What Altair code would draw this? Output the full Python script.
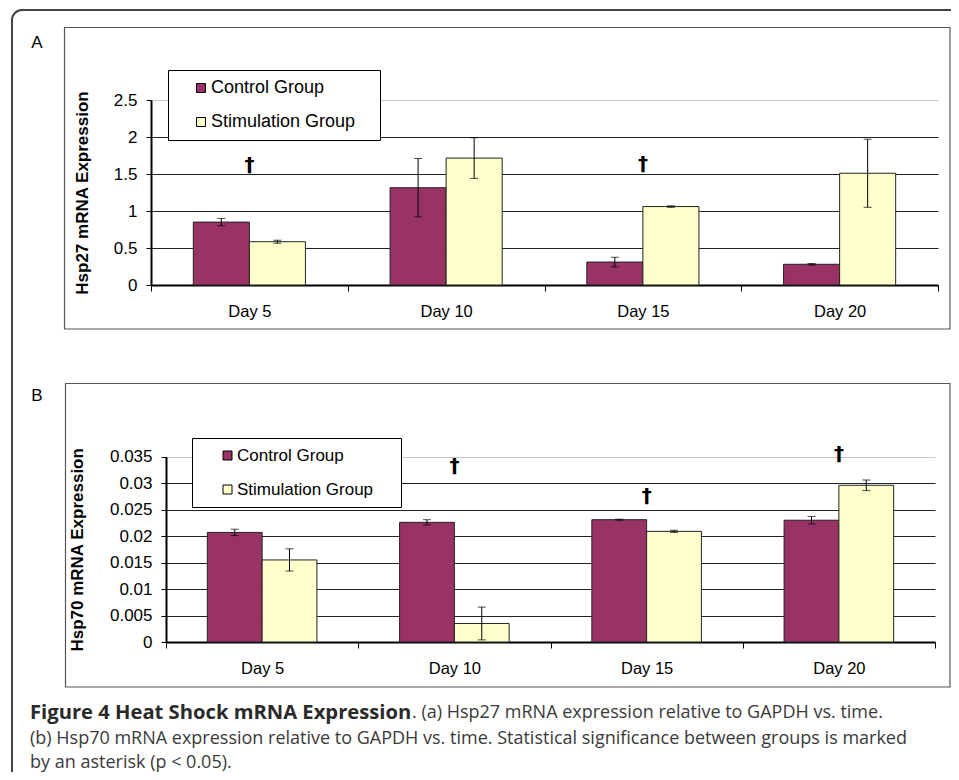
import altair as alt
import pandas as pd

# ---------------- data ----------------
days = ["Day 5", "Day 10", "Day 15", "Day 20"]
groups = ["Control Group", "Stimulation Group"]
group_colors = ["#993366", "#FFFFCC"]

hsp27_control = [0.85, 1.315, 0.31, 0.28]
hsp27_control_err = [0.05, 0.395, 0.065, 0.01]
hsp27_stim = [0.585, 1.715, 1.06, 1.51]
hsp27_stim_err = [0.02, 0.275, 0.01, 0.46]

hsp70_control = [0.0207, 0.0226, 0.0231, 0.0230]
hsp70_control_err = [0.0006, 0.0005, 0.0001, 0.0007]
hsp70_stim = [0.0155, 0.0035, 0.0209, 0.0296]
hsp70_stim_err = [0.0021, 0.0031, 0.0002, 0.0010]

sig27_days = ["Day 5", "Day 15"]
sig27_y = [1.62, 1.63]
sig70_days = ["Day 10", "Day 15", "Day 20"]
sig70_y = [0.0333, 0.0276, 0.0355]

hsp27_ticks = [0, 0.5, 1, 1.5, 2, 2.5]
hsp70_ticks = [0, 0.005, 0.01, 0.015, 0.02, 0.025, 0.03, 0.035]

panel_labels = ["A", "B"]
y_titles = ["Hsp27 mRNA Expression", "Hsp70 mRNA Expression"]
caption_bold = "Figure 4 Heat Shock mRNA Expression"
caption_line1 = ". (a) Hsp27 mRNA expression relative to GAPDH vs. time."
caption_line2 = ("(b) Hsp70 mRNA expression relative to GAPDH vs. time. "
                 "Statistical significance between groups is marked")
caption_line3 = "by an asterisk (p < 0.05)."

W, H = 943, 764
FONT = "Liberation Sans"
NBSP = "\u00a0"
ZWSP = "\u200b"


def panel_df(ctrl, ctrl_err, stim, stim_err):
    rows = []
    for i, d in enumerate(days):
        rows.append(dict(day=d, group=groups[0], value=ctrl[i], err=ctrl_err[i]))
        rows.append(dict(day=d, group=groups[1], value=stim[i], err=stim_err[i]))
    return pd.DataFrame(rows)


def panel(df, sig_df, x_range, y_domain, y_range, ticks, title, title_x,
          top_val, legend_xy, legend_font, sym_off, lab_off, nb):
    x_axis = alt.Axis(orient="bottom", offset=y_range[0] - H, title=None,
                      labelAngle=0, labelFont=FONT, labelFontSize=16.5,
                      labelColor="black", labelPadding=12, tickSize=6,
                      tickColor="black", tickBand="extent", domainColor="black",
                      domainWidth=2, grid=False)
    x_scale = alt.Scale(domain=days, range=x_range, paddingInner=0, paddingOuter=0)
    xo_scale = alt.Scale(domain=groups, paddingInner=0, paddingOuter=0.755)
    y_axis = alt.Axis(orient="left", offset=-x_range[0], values=ticks, format="~g",
                      title=title, titleFont=FONT, titleFontSize=17,
                      titleFontWeight="bold", titleColor="black", titleX=title_x,
                      titleBaseline="middle",
                      labelFont=FONT, labelFontSize=17, labelColor="black",
                      labelPadding=9, tickSize=5, tickColor="black",
                      domainColor="black", domainWidth=2, grid=True,
                      gridColor={"condition": {"test": f"datum.value >= {top_val}",
                                               "value": "#c8c8c8"},
                                 "value": "#222222"},
                      gridWidth=1)
    y_scale = alt.Scale(domain=y_domain, range=y_range, nice=False, zero=True)

    def X():
        return alt.X("day:N", sort=days, scale=x_scale, axis=x_axis)

    def XO():
        return alt.XOffset("group:N", sort=groups, scale=xo_scale)

    def Y(field):
        return alt.Y(field, scale=y_scale, axis=y_axis)

    bars = alt.Chart(df).mark_bar(stroke="#222222", strokeWidth=1).encode(
        x=X(), xOffset=XO(), y=Y("value:Q"),
        color=alt.Color("group:N", sort=groups,
                        scale=alt.Scale(domain=groups, range=group_colors),
                        legend=alt.Legend(orient="none", legendX=legend_xy[0],
                                          legendY=legend_xy[1], title=None,
                                          direction="vertical",
                                          strokeColor="black", fillColor="white",
                                          padding=9, rowPadding=16,
                                          labelFont=FONT, labelFontSize=legend_font,
                                          labelColor="black", symbolType="square",
                                          symbolSize=81, symbolStrokeColor="black",
                                          symbolStrokeWidth=1, symbolOpacity=1,
                                          symbolOffset=sym_off, labelOffset=lab_off,
                                          labelExpr="datum.label + '" + NBSP * nb + ZWSP + "'")),
    )
    err = alt.Chart(df).transform_calculate(
        lo="datum.value - datum.err", hi="datum.value + datum.err"
    ).mark_rule(color="black", strokeWidth=1).encode(
        x=X(), xOffset=XO(), y=Y("lo:Q"), y2="hi:Q")
    caps = alt.Chart(df).transform_calculate(
        lo="datum.value - datum.err", hi="datum.value + datum.err"
    ).transform_fold(["lo", "hi"], as_=["end", "v"]).mark_tick(
        color="black", thickness=1, size=8).encode(
        x=X(), xOffset=XO(), y=Y("v:Q"))
    dag = alt.Chart(sig_df).mark_text(
        text="\u2020", font="DejaVu Sans", fontWeight="bold", fontSize=20,
        color="black", baseline="middle").encode(x=X(), y=Y("y:Q"))
    return alt.layer(bars, err, caps, dag)


dfA = panel_df(hsp27_control, hsp27_control_err, hsp27_stim, hsp27_stim_err)
dfB = panel_df(hsp70_control, hsp70_control_err, hsp70_stim, hsp70_stim_err)
sigA = pd.DataFrame({"day": sig27_days, "y": sig27_y})
sigB = pd.DataFrame({"day": sig70_days, "y": sig70_y})

panelA = panel(dfA, sigA, [143, 930], [0, 2.5], [277, 92], hsp27_ticks,
               y_titles[0], -69, 2.49, (160, 62), 18, 15, 1, 3)
panelB = panel(dfB, sigB, [158, 927], [0, 0.035], [634, 448.7], hsp70_ticks,
               y_titles[1], -89, 0.0349, (184, 430), 17, 18, 1, 4)

one = alt.Data(values=[{}])

frame = alt.Chart(one).mark_rect(
    clip=True, cornerRadius=10, fillOpacity=0, stroke="#444444", strokeWidth=2
).encode(x=alt.value(4), x2=alt.value(1400), y=alt.value(2), y2=alt.value(1400))

boxA = alt.Chart(one).mark_rect(fillOpacity=0, stroke="#555555", strokeWidth=1.2).encode(
    x=alt.value(56.5), x2=alt.value(942), y=alt.value(19.5), y2=alt.value(321))
boxB = alt.Chart(one).mark_rect(fillOpacity=0, stroke="#555555", strokeWidth=1.2).encode(
    x=alt.value(57.5), x2=alt.value(942), y=alt.value(375.5), y2=alt.value(679))


def text_layer(txt, x, y, **kw):
    return alt.Chart(pd.DataFrame({"t": [txt]})).mark_text(**kw).encode(
        x=alt.value(x), y=alt.value(y), text="t:N")


labA = text_layer(panel_labels[0], 29, 35, font=FONT, fontSize=17, color="black",
                  align="center", baseline="middle")
labB = text_layer(panel_labels[1], 29, 388, font=FONT, fontSize=17, color="black",
                  align="center", baseline="middle")

cap_kw = dict(font="Open Sans", fontSize=18, color="#3a3a3a", align="left",
              baseline="middle")
cap0 = text_layer(caption_bold, 22, 705, font="Open Sans", fontSize=20.2,
                  fontWeight="bold", color="#2a2a2a", align="left", baseline="middle")
cap1 = text_layer(caption_line1, 404, 705, **cap_kw)
cap2 = text_layer(caption_line2, 22, 731, **cap_kw)
cap3 = text_layer(caption_line3, 22, 755, **cap_kw)

chart = alt.layer(
    frame, boxA, boxB, panelA, panelB, labA, labB, cap0, cap1, cap2, cap3
).resolve_scale(
    x="independent", y="independent", color="independent", xOffset="independent"
).properties(
    width=W, height=H, padding=0, autosize=alt.AutoSizeParams(type="none")
).configure_view(stroke=None)

chart.save("out.html", embed_options={"renderer": "svg", "actions": False})
